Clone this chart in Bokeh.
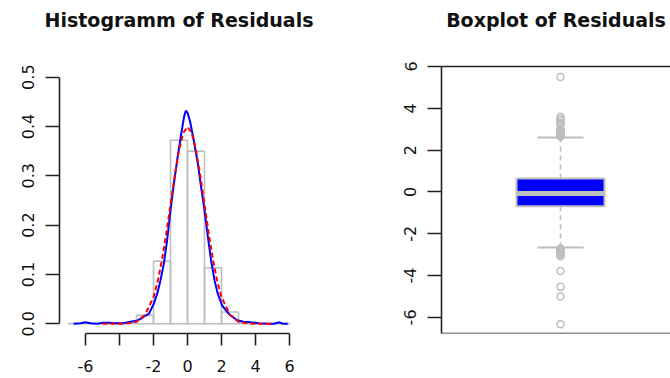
from bokeh.plotting import figure
from bokeh.layouts import row
from bokeh.models import FixedTicker, Span, LinearAxis
from bokeh.embed import file_html
from bokeh.resources import INLINE

# ---------------- data ----------------
bin_left = [-7, -6, -5, -4, -3, -2, -1, 0, 1, 2, 3, 4, 5]
bin_right = [-6, -5, -4, -3, -2, -1, 0, 1, 2, 3, 4, 5, 6]
hist_density = [0.0005, 0.0, 0.001, 0.002, 0.017, 0.127, 0.372, 0.350, 0.1135, 0.024, 0.003, 0.0, 0.0005]

kde_x = [-6.7, -6.3, -6.0, -5.7, -5.3, -5.0, -4.6, -4.2, -3.8, -3.35, -3.0, -2.76, -2.5, -2.27,
         -1.98, -1.78, -1.59, -1.39, -1.2, -1.0, -0.8, -0.61, -0.37, -0.2, -0.1, 0.0, 0.14, 0.37,
         0.61, 0.8, 1.0, 1.2, 1.39, 1.59, 1.78, 2.04, 2.43, 2.92, 3.3, 3.7, 4.2, 4.7, 5.1, 5.4, 5.6, 5.9]
kde_y = [0.000, 0.001, 0.003, 0.001, 0.000, 0.002, 0.002, 0.001, 0.001, 0.004, 0.006, 0.010, 0.016, 0.020,
         0.041, 0.061, 0.088, 0.122, 0.169, 0.230, 0.284, 0.331, 0.385, 0.420, 0.432, 0.428, 0.412, 0.372,
         0.324, 0.277, 0.230, 0.176, 0.128, 0.088, 0.061, 0.037, 0.020, 0.007, 0.004, 0.003, 0.001, 0.000, 0.000, 0.003, 0.000, 0.000]

norm_x = [-5.0, -4.0, -3.5, -3.0, -2.5, -2.0, -1.75, -1.5, -1.25, -1.0, -0.75, -0.5, -0.25, 0.0,
          0.25, 0.5, 0.75, 1.0, 1.25, 1.5, 1.75, 2.0, 2.5, 3.0, 3.5, 4.0, 5.0]
norm_y = [0.000, 0.0001, 0.001, 0.004, 0.018, 0.054, 0.086, 0.130, 0.183, 0.242, 0.301, 0.352, 0.387, 0.399,
          0.387, 0.352, 0.301, 0.242, 0.183, 0.130, 0.086, 0.054, 0.018, 0.004, 0.001, 0.0001, 0.000]

box_q1 = -0.68
box_median = -0.08
box_q3 = 0.64
whisker_low = -2.66
whisker_high = 2.60
outliers = [2.65, 2.68, 2.70, 2.72, 2.75, 2.78, 2.80, 2.83, 2.86, 2.90, 2.95, 3.00, 3.20, 3.30, 3.40,
            3.50, 3.60, 5.50, -2.70, -2.75, -2.78, -2.80, -2.85, -2.90, -2.95, -3.00, -3.08, -3.78,
            -4.54, -5.00, -6.33]

hist_title = "Histogramm of Residuals"
box_title = "Boxplot of Residuals"
hist_x_ticks = [-6, -4, -2, 0, 2, 4, 6]
hist_x_labels = ["-6", "", "-2", "0", "2", "4", "6"]
hist_y_ticks = [0.0, 0.1, 0.2, 0.3, 0.4, 0.5]
hist_y_labels = ["0.0", "0.1", "0.2", "0.3", "0.4", "0.5"]
box_y_ticks = [-6, -4, -2, 0, 2, 4, 6]
box_y_labels = ["-6", "-4", "-2", "0", "2", "4", "6"]

# ---------------- styling ----------------
GRAY = "#bebebe"
AXIS_COL = "#222222"
TICK_FONT = "DejaVu Sans"
TITLE_FONT = "DejaVu Sans"
FRAME_TOP = 66


def style_axis(ax, standoff):
    ax.axis_line_color = AXIS_COL
    ax.axis_line_width = 1.6
    ax.major_tick_line_color = AXIS_COL
    ax.major_tick_line_width = 1.6
    ax.major_tick_in = 0
    ax.minor_tick_line_color = None
    ax.major_label_text_font = TICK_FONT
    ax.major_label_text_font_size = "16px"
    ax.major_label_text_color = "#111111"
    ax.major_label_standoff = standoff


def add_title_axis(p, text, show_line):
    ax = LinearAxis(ticker=FixedTicker(ticks=[]), axis_label=text)
    ax.major_tick_out = 0
    ax.major_tick_in = 0
    ax.minor_tick_out = 0
    ax.minor_tick_in = 0
    ax.major_label_standoff = 0
    ax.major_label_text_font_size = "0px"
    ax.axis_line_color = AXIS_COL if show_line else None
    ax.axis_line_width = 1.6
    ax.axis_label_text_font = TITLE_FONT
    ax.axis_label_text_font_size = "19px"
    ax.axis_label_text_font_style = "bold"
    ax.axis_label_text_color = "#111111"
    ax.axis_label_standoff = 36
    p.add_layout(ax, "above")


W, H = 335, 378
BOTTOM = 45

# ---------------- histogram ----------------
p1 = figure(width=W, height=H, output_backend="svg", toolbar_location=None,
            x_range=(-7.53, 6.53), y_range=(-0.0197, 0.5216),
            min_border_left=59, min_border_right=37, min_border_top=FRAME_TOP, min_border_bottom=BOTTOM)
p1.outline_line_color = None
p1.grid.visible = False
xa = p1.below[0]
ya = p1.left[0]
add_title_axis(p1, hist_title, False)

p1.quad(left=bin_left, right=bin_right, top=hist_density, bottom=0,
        fill_color=None, line_color=GRAY, line_width=1.6)
p1.line(kde_x, kde_y, line_color="blue", line_width=2)
p1.line(norm_x, norm_y, line_color="red", line_width=2, line_dash="5 3")

xa.ticker = FixedTicker(ticks=hist_x_ticks)
xa.bounds = (hist_x_ticks[0], hist_x_ticks[-1])
xa.major_label_overrides = dict(zip(hist_x_ticks, hist_x_labels))
style_axis(xa, 14)
xa.major_tick_out = 12

ya.ticker = FixedTicker(ticks=hist_y_ticks)
ya.bounds = (hist_y_ticks[0], hist_y_ticks[-1])
ya.major_label_overrides = dict(zip(hist_y_ticks, hist_y_labels))
ya.major_label_orientation = "vertical"
style_axis(ya, 11)
ya.major_tick_out = 14

# ---------------- boxplot ----------------
p2 = figure(width=W, height=H, output_backend="svg", toolbar_location=None,
            x_range=(0.459, 1.5), y_range=(-6.77, 6.0),
            min_border_left=106, min_border_right=0, min_border_top=FRAME_TOP, min_border_bottom=BOTTOM,
            x_axis_location=None)
p2.outline_line_color = None
p2.grid.visible = False
ya2 = p2.left[0]
add_title_axis(p2, box_title, True)

# frame bottom edge
p2.add_layout(Span(location=p2.y_range.start, dimension="width", line_color=AXIS_COL, line_width=1.6))

# whiskers (dashed)
p2.segment(x0=[1, 1], x1=[1, 1], y0=[box_q3, box_q1], y1=[whisker_high, whisker_low],
           line_color=GRAY, line_width=1.6, line_dash="5 4")
# staples
p2.segment(x0=[0.895, 0.895], x1=[1.105, 1.105], y0=[whisker_high, whisker_low],
           y1=[whisker_high, whisker_low], line_color=GRAY, line_width=2)
# box
p2.quad(left=[0.8], right=[1.2], bottom=[box_q1], top=[box_q3],
        fill_color="blue", line_color=GRAY, line_width=2)
# median
p2.segment(x0=[0.8], x1=[1.2], y0=[box_median], y1=[box_median], line_color=GRAY, line_width=5)
# outliers
p2.scatter(x=[1] * len(outliers), y=outliers, marker="circle", size=7,
           fill_color=None, line_color=GRAY, line_width=1.5)

ya2.ticker = FixedTicker(ticks=box_y_ticks)
ya2.major_label_overrides = dict(zip(box_y_ticks, box_y_labels))
ya2.major_label_orientation = "vertical"
style_axis(ya2, 11)
ya2.major_tick_out = 14

layout = row(p1, p2)
open("out.html", "w").write(file_html(layout, INLINE))
